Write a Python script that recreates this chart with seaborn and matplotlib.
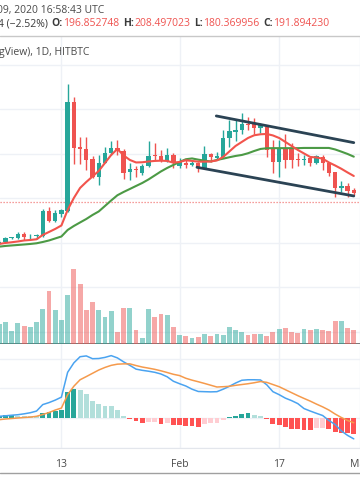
import numpy as np
import pandas as pd
import matplotlib
matplotlib.use("Agg")
import matplotlib.pyplot as plt
import matplotlib.dates as mdates
from matplotlib.lines import Line2D
import seaborn as sns

# daily candles, Jan 3 - Feb 29 2020 (BSV/USD, HITBTC)
dates = pd.date_range("2020-01-03", "2020-02-29", freq="D")

opens = [99, 103, 111, 111, 120, 115, 115, 116, 172, 150, 165, 172, 417, 315, 312, 288, 249, 280, 302, 314,
         307, 259, 266, 257, 273, 298, 296, 285, 298,
         273, 279, 275, 280, 268, 299, 292, 294, 335, 350, 354, 367, 367, 358, 361, 313, 283, 313, 311, 289,
         287, 290, 279, 294, 279, 259, 224, 229, 218]
highs = [106, 113, 114, 124, 124, 120, 121, 176, 180, 174, 176, 457, 427, 339, 339, 296, 298, 315, 330, 331,
         311, 279, 273, 277, 329, 324, 309, 313, 302,
         290, 287, 287, 283, 318, 303, 305, 354, 376, 376, 392, 384, 380, 369, 365, 331, 331, 345, 325, 302,
         298, 293, 298, 298, 280, 260, 240, 234, 223]
lows = [96, 101, 108, 109, 107, 107, 109, 114, 148, 147, 159, 170, 277, 277, 264, 245, 230, 279, 298, 297,
        243, 241, 249, 253, 270, 286, 283, 283, 268,
        268, 268, 273, 260, 266, 283, 287, 292, 316, 328, 345, 354, 345, 348, 294, 257, 249, 268, 268, 272,
        275, 273, 278, 264, 251, 204, 215, 204, 208]
closes = [103, 110.6, 112, 120, 114, 116, 117, 172, 150, 167, 174, 417, 314, 312, 287, 249, 280, 303, 313, 309,
          257, 266, 264, 273, 296, 295, 285, 298, 279,
          283, 275, 280, 268, 299, 294, 296, 335, 352, 354, 367, 365, 359, 364, 309, 283, 313, 287, 286, 287,
          289, 279, 296, 279, 258, 223, 229, 217, 212]
volumes = [197, 217, 130, 207, 180, 173, 217, 347, 533, 340, 240, 490, 750, 597, 340, 417, 340, 273, 333, 123,
           357, 357, 140, 63, 347, 273, 300, 290, 167,
           90, 80, 63, 73, 100, 80, 100, 90, 173, 140, 117, 90, 100, 100, 80, 123, 147, 157, 117, 107,
           147, 140, 147, 140, 130, 230, 230, 157, 140]

ma_fast = [97.8, 100, 101.6, 103.4, 105.6, 106.7, 108.3, 118, 124.7, 131.5, 139.3, 174.2, 201.1, 223.6, 237.1,
           249.4, 261.8, 279.8, 297.7, 311.2, 296.6, 286.5, 280.9, 281.3, 283.1, 284.3, 284.9, 284.3, 280.4,
           282, 285.8, 284.3, 282.7, 282.7, 283.1, 285.4, 293.2, 305.6, 318, 327, 335.9, 342, 344.2, 344.9,
           341.6, 335.9, 327, 318, 309, 301.1, 293.2, 292.1, 289.4, 280.9, 274.1, 266.7, 258.4, 250.5]
ma_slow = [91.7, 93.3, 94.4, 95.5, 96.6, 97.8, 99.3, 102.2, 105.6, 110.1, 114.6, 129.2, 138.2, 146.1, 153.9,
           162.9, 170.8, 183.1, 195.5, 207.2, 214.6, 221.3, 228.1, 234.8, 242.7, 251.7, 260.7, 268.5, 275.3,
           282, 288.1, 289.9, 287.2, 284.9, 283.1, 286.5, 289.4, 292.6, 295.5, 297.7, 301.6, 306.7, 311.2,
           312.8, 313, 313, 313, 313, 313, 313.5, 313.5, 313.5, 313.5, 313.5, 310.1, 305.2, 300, 293.9]

macd = [1.9, 2.4, 3, 3.5, 4.4, 5.5, 7.2, 13.7, 15.7, 18.2, 21.2, 46.2, 55.7, 61.9, 62.7, 59.9, 60.1, 61.2, 63,
        60.7, 56.7, 53.2, 49.4, 48.2, 47.3, 46.2, 44.5, 41.7, 37.2, 34.7, 32.4, 29.2, 26.9, 26.7, 26.5, 26.7,
        29.2, 32.1, 35.4, 38.2, 38.7, 38.7, 38.5, 33.7, 26.7, 23.7, 20.2, 17.7, 14.7, 9.7, 7.2, 4.9, 2.7,
        -2.3, -6.3, -12.8, -17.3, -20.8]
signal = [-1.5, -0.8, -0.3, 0.2, 0.7, 1.1, 1.9, 3.7, 5.7, 8.2, 10.2, 23.7, 32.2, 38.7, 41.9, 45.2, 48.5, 51.1,
          53.2, 54.4, 54.7, 54.7, 53, 51.5, 50.4, 49.2, 47.7, 46, 44.2, 42.9, 40.2, 38.3, 36.7, 35, 33.2, 31.4,
          31.7, 32.1, 33.1, 33.9, 34.7, 35.7, 36.9, 36.1, 33.9, 31.7, 28.7, 25.7, 22.7, 19.9, 17.2, 14.2, 11.4,
          8.2, 4.2, 0.7, -2.3, -4.6]
hist = [2.5, 2.8, 3.0, 2.7, 2.4, 2.1, 1.9, 5.5, 6.5, 7.5, 8.5, 26.3, 29.3, 28.7, 24.3, 17.7, 14.7, 12.7, 12.0,
        8.7, 2.7, -1.3, -3.0, -5.3, -4.3, -4.0, -5.7, -4.7, -6.8, -7.1, -7.4, -8.0, -8.7, -6.3, -5.3, -4.7,
        -2.3, 1.3, 2.7, 4.7, 5.3, 3.7, 2.0, -0.7, -5.7, -7.0, -8.7, -10.7, -11.3, -11.5, -11.7, -9.7, -9.5,
        -11.3, -14.0, -14.7, -15.3, -16.3]

# descending channel drawn on the chart
chan_upper_x = ["2020-02-06 21:36", "2020-02-29 00:00"]
chan_upper_y = [385.4, 325.4]
chan_lower_x = ["2020-02-03 19:00", "2020-02-29 00:00"]
chan_lower_y = [270.0, 205.6]
last_price = 191.894230

tick_dates = ["2020-01-13", "2020-02-01", "2020-02-17", "2020-03-01"]
tick_labels = ["13", "Feb", "17", "Mar"]

header_time = "09, 2020 16:58:43 UTC"
header_ohlc = [("4 (\u22122.52%)", "dark"), ("O:", "dark"), ("196.852748", "red"), ("H:", "dark"),
               ("208.497023", "red"), ("L:", "dark"), ("180.369956", "red"), ("C:", "dark"),
               ("191.894230", "red")]
header_symbol = "gView), 1D, HITBTC"

TEAL = "#26a69a"
RED = "#ef5350"
DARK = "#4a4a4a"
GRID = "#eef1f6"

sns.set_style("white")
plt.rcParams['font.family'] = ['Open Sans', 'DejaVu Sans']

W, H = 360, 504
fig = plt.figure(figsize=(W / 100, H / 100), dpi=100)


def fy(y):
    return 1 - y / H


rect_price = [0, fy(344), 1, 308 / H]
ax_grid = fig.add_axes(rect_price)
ax_vol = fig.add_axes(rect_price, sharex=ax_grid)
ax = fig.add_axes(rect_price, sharex=ax_grid)
ax_macd = fig.add_axes([0, fy(448), 1, 104 / H], sharex=ax_grid)
for a in (ax_vol, ax):
    a.patch.set_visible(False)

x = mdates.date2num(dates)
o = np.array(opens, float)
c = np.array(closes, float)
up = c >= o
cols = np.where(up, TEAL, RED)

# volume (semi transparent, bottom of price pane)
ax_vol.bar(x, volumes, width=0.78, color=cols, alpha=0.5, linewidth=0)
ax_vol.set_ylim(0, max(volumes) / 0.2435)

# candles
ax.vlines(x, lows, highs, colors=cols, linewidth=1, zorder=2)
body = np.maximum(np.abs(c - o), 1.6)
ax.bar(x, body, bottom=np.minimum(o, c), width=0.7, color=cols, linewidth=0, zorder=3)

sns.lineplot(x=x, y=ma_slow, ax=ax, color="#4c9a45", linewidth=1.5, zorder=4)
sns.lineplot(x=x, y=ma_fast, ax=ax, color="#f2544c", linewidth=1.5, zorder=5)

ax.plot(mdates.date2num(pd.to_datetime(chan_upper_x)), chan_upper_y, color="#2b4354", linewidth=2,
        solid_capstyle="round", zorder=6)
ax.plot(mdates.date2num(pd.to_datetime(chan_lower_x)), chan_lower_y, color="#2b4354", linewidth=2,
        solid_capstyle="round", zorder=6)
ax.axhline(last_price, color=RED, linewidth=0.9, linestyle=(0, (1, 1.4)), alpha=0.75, zorder=1)

ax_grid.set_ylim(-127, 565)
ax.set_ylim(-127, 565)
ax_grid.set_yticks(np.arange(-100, 501, 100))

# macd pane
hist_arr = np.array(hist)
prev = np.concatenate([[hist_arr[0] - 0.1], hist_arr[:-1]])
hcol = np.where(hist_arr >= 0, np.where(hist_arr >= prev, TEAL, "#b2dfdb"),
                np.where(hist_arr <= prev, "#ff5252", "#ffcdd2"))
ax_macd.bar(x, hist, width=0.78, color=hcol, linewidth=0, zorder=2)
sns.lineplot(x=x, y=macd, ax=ax_macd, color="#4aa3f0", linewidth=1.1, zorder=3)
sns.lineplot(x=x, y=signal, ax=ax_macd, color="#f59a4c", linewidth=1.1, zorder=3)
ax_macd.set_ylim(-29.3, 74.7)
ax_macd.set_yticks([-30, 0, 30, 60])

x0 = x[0] + 0.8 / 6.33
ax_grid.set_xlim(x0, x0 + W / 6.33)

tx = mdates.date2num(pd.to_datetime(tick_dates))
for a in (ax_grid, ax_macd):
    a.set_xticks(tx)
    a.grid(True, color=GRID, linewidth=1)
    a.set_axisbelow(True)
    a.tick_params(axis="y", left=False, labelleft=False)
    for s in a.spines.values():
        s.set_visible(False)
for a in (ax_vol, ax):
    a.axis("off")
ax_grid.tick_params(axis="x", bottom=False, labelbottom=False)
ax_grid.spines["bottom"].set_visible(True)
ax_grid.spines["bottom"].set_color("#6e6e6e")
ax_grid.spines["bottom"].set_linewidth(1.3)

ax_macd.spines["bottom"].set_visible(True)
ax_macd.spines["bottom"].set_color("#e3e6ec")
ax_macd.set_xticklabels(tick_labels)
ax_macd.tick_params(axis="x", length=3, width=1, color="#b0b0b0", pad=5, labelsize=7.5, labelcolor=DARK)
ax_macd.set_xlabel("")
ax_macd.set_ylabel("")
ax.set_xlabel("")

# header lines
fig.add_artist(Line2D([0, 1], [fy(36), fy(36)], color="#c8c8c8", linewidth=1))
fig.add_artist(Line2D([0, 1], [fy(473), fy(473)], color="#a0a0a0", linewidth=1))

fs = 7.5
fig.text(-3 / W, fy(10), header_time, color=DARK, fontsize=fs, va="center", ha="left")
fig.text(-1 / W, fy(52), header_symbol, color=DARK, fontsize=fs, va="center", ha="left")

renderer = fig.canvas.get_renderer()
px = -2
for i, (s, kind) in enumerate(header_ohlc):
    t = fig.text(px / W, fy(24), s, color=RED if kind == "red" else "#3a3a3a", fontsize=fs,
                 va="center", ha="left", fontweight="bold" if kind == "dark" and i > 0 else "normal")
    px += t.get_window_extent(renderer).width
    if kind == "red" or i == 0:
        px += 4

fig.savefig("out.png", dpi=100, facecolor="white")
